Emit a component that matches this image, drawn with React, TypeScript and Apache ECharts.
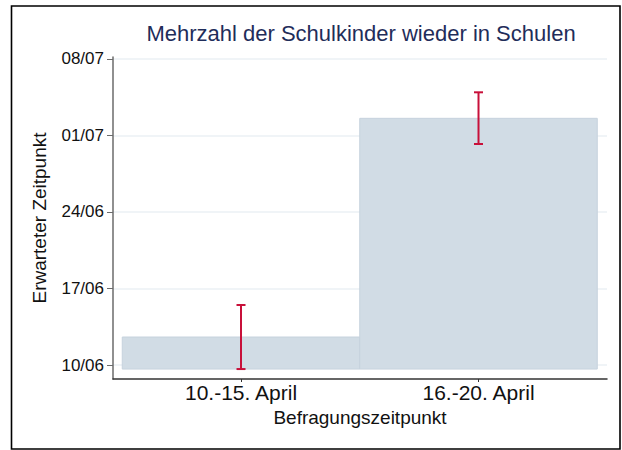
import React, { useEffect, useRef } from 'react';
import * as echarts from 'echarts';

// Survey periods (x categories) and their positions on the value axis
const categories = ['10.-15. April', '16.-20. April'];
const categoryPositions = [1, 2];
// Expected date, expressed as days after 10 June
const meanDays = [2.56, 22.57];
const ciLowDays = [-0.37, 20.22];
const ciHighDays = [5.49, 24.95];
const barBaseDay = -0.37;
// Y tick values (days after 10 June) and labels
const yTickValues = [0, 7, 14, 21, 28];
const yTickLabels = ['10/06', '17/06', '24/06', '01/07', '08/07'];

const FONT = 'Liberation Sans, Arial, Helvetica, sans-serif';

export default function App() {
  const ref = useRef<HTMLDivElement>(null);

  useEffect(() => {
    if (!ref.current) return;
    const chart = echarts.init(ref.current, null, { renderer: 'svg' });

    const barData = categoryPositions.map((x, i) => [x, meanDays[i]]);
    const errData = categoryPositions.map((x, i) => [x, ciLowDays[i], ciHighDays[i]]);

    const option: any = {
      animation: false,
      backgroundColor: '#ffffff',
      textStyle: { fontFamily: FONT },
      grid: { left: 113, right: 15, top: 57, bottom: 71, containLabel: false },
      graphic: [
        {
          type: 'rect',
          shape: { x: 11.5, y: 6, width: 608.5, height: 443 },
          style: { fill: 'none', stroke: '#000000', lineWidth: 1.6 },
          silent: true,
        },
        {
          type: 'text',
          x: 361,
          y: 33,
          style: {
            text: 'Mehrzahl der Schulkinder wieder in Schulen',
            align: 'center',
            verticalAlign: 'middle',
            fontSize: 22,
            fontFamily: FONT,
            fill: '#1f2d5a',
          },
        },
      ],
      xAxis: {
        type: 'value',
        min: 0.461,
        max: 2.541,
        name: 'Befragungszeitpunkt',
        nameLocation: 'middle',
        nameGap: 29,
        nameTextStyle: { fontSize: 19, color: '#111111', fontFamily: FONT },
        axisLine: { show: true, onZero: false, lineStyle: { color: '#333333', width: 1.5 } },
        axisTick: { show: true, customValues: categoryPositions, length: 3, lineStyle: { color: '#333333' } },
        axisLabel: {
          customValues: categoryPositions,
          formatter: (v: number) => {
            const i = categoryPositions.indexOf(v);
            return i >= 0 ? categories[i] : '';
          },
          fontSize: 21,
          color: '#111111',
          margin: 3,
          fontFamily: FONT,
        },
        splitLine: { show: false },
      },
      yAxis: {
        type: 'value',
        min: -1.28,
        max: 28.18,
        name: 'Erwarteter Zeitpunkt',
        nameLocation: 'middle',
        nameGap: 64,
        nameTextStyle: { fontSize: 19, color: '#111111', fontFamily: FONT },
        axisLine: { show: true, onZero: false, lineStyle: { color: '#6b6b6b', width: 1.5 } },
        axisTick: { show: true, customValues: yTickValues, length: 6, lineStyle: { color: '#6b6b6b' } },
        axisLabel: {
          customValues: yTickValues,
          formatter: (v: number) => {
            const i = yTickValues.indexOf(v);
            return i >= 0 ? yTickLabels[i] : '';
          },
          fontSize: 17,
          color: '#111111',
          margin: 9,
          fontFamily: FONT,
        },
        splitLine: { show: true, lineStyle: { color: '#ebf0f4', width: 1.5 } },
      },
      series: [
        {
          type: 'custom',
          name: 'Mittelwert',
          data: barData,
          encode: { x: 0, y: 1 },
          renderItem: (_params: any, api: any) => {
            const x = api.value(0);
            const v = api.value(1);
            const p1 = api.coord([x - 0.5, v]);
            const p2 = api.coord([x + 0.5, barBaseDay]);
            return {
              type: 'rect',
              shape: { x: p1[0], y: p1[1], width: p2[0] - p1[0], height: p2[1] - p1[1] },
              style: { fill: '#d1dce5', stroke: '#c6d2dd', lineWidth: 1 },
            };
          },
          z: 2,
        },
        {
          type: 'custom',
          name: 'KI',
          data: errData,
          encode: { x: 0, y: [1, 2] },
          renderItem: (_params: any, api: any) => {
            const x = api.value(0);
            const lo = api.coord([x, api.value(1)]);
            const hi = api.coord([x, api.value(2)]);
            const cap = 4.5;
            const st = { stroke: '#c8103a', lineWidth: 2 };
            return {
              type: 'group',
              children: [
                { type: 'line', shape: { x1: lo[0], y1: lo[1], x2: hi[0], y2: hi[1] }, style: st },
                { type: 'line', shape: { x1: lo[0] - cap, y1: lo[1], x2: lo[0] + cap, y2: lo[1] }, style: st },
                { type: 'line', shape: { x1: hi[0] - cap, y1: hi[1], x2: hi[0] + cap, y2: hi[1] }, style: st },
              ],
            };
          },
          z: 3,
        },
      ],
    };

    chart.setOption(option);
    return () => chart.dispose();
  }, []);

  return (
    <div
      ref={ref}
      style={{ position: 'fixed', left: 0, top: 0, width: 622, height: 450, background: '#fff' }}
    />
  );
}
